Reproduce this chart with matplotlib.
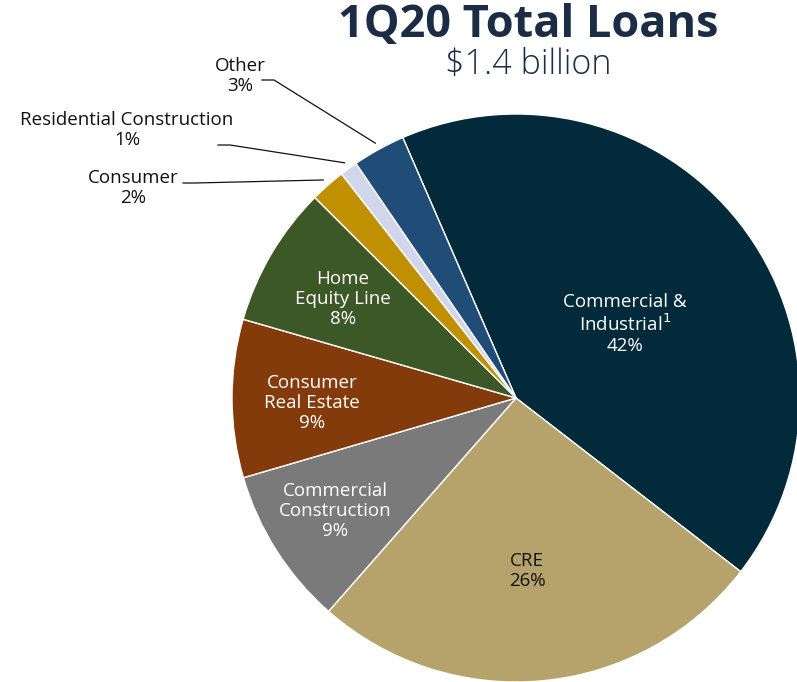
import numpy as np
import matplotlib
matplotlib.use("Agg")
import matplotlib.pyplot as plt

# Loan portfolio mix, 1Q20
categories = ["Commercial &\nIndustrial$^{1}$", "CRE", "Commercial\nConstruction",
              "Consumer\nReal Estate", "Home\nEquity Line", "Consumer",
              "Residential Construction", "Other"]
shares = [42, 26, 9, 9, 8, 2, 1, 3]
colors = ["#032a3b", "#b5a36b", "#7a7a7a", "#833b0c", "#3b5826",
          "#c09000", "#d2d6ea", "#1f4d78"]
text_colors = ["white", "#111111", "white", "white", "white", None, None, None]
title = "1Q20 Total Loans"
subtitle = "$1.4 billion"

W, H = 797, 682
plt.rcParams["font.family"] = ["Open Sans", "DejaVu Sans"]
fig = plt.figure(figsize=(W / 100, H / 100), dpi=100)
ax = fig.add_axes([0, 0, 1, 1])

cx, cy, r = 516, H - 398, 284
wedges, _ = ax.pie(shares, colors=colors, startangle=113.5, counterclock=False,
                   center=(cx, cy), radius=r,
                   wedgeprops=dict(edgecolor="white", linewidth=1.0))
ax.set_xlim(0, W)
ax.set_ylim(0, H)
ax.set_aspect("equal")
ax.axis("off")

def py(y):
    return H - y

FS = 13.5
LS = 1.12

# labels inside the larger wedges (offsets in pixels, top-down)
inside_pos = {0: (625, 324), 1: (527, 571), 2: (335, 511), 3: (312, 403), 4: (343, 299)}
for i, (x, y) in inside_pos.items():
    ax.text(x, py(y), f"{categories[i]}\n{shares[i]}%", ha="center", va="center",
            color=text_colors[i], fontsize=FS, linespacing=LS)

# labels outside the thin wedges, with leader lines
outside = {5: ((133, 188), (183, 183)),
           6: ((127, 130), (218, 145)),
           7: ((240, 76), (262, 80))}
for i, ((tx, ty), (lx, ly)) in outside.items():
    w = wedges[i]
    mid = np.deg2rad((w.theta1 + w.theta2) / 2)
    ex, ey = cx + 1.025 * r * np.cos(mid), cy + 1.025 * r * np.sin(mid)
    ax.text(tx, py(ty), f"{categories[i]}\n{shares[i]}%", ha="center", va="center",
            color="#111111", fontsize=FS, linespacing=LS)
    ax.plot([lx, lx + 12, ex], [py(ly), py(ly), ey], color="#111111", lw=0.9)

ax.text(528, py(26), title, ha="center", va="center", fontsize=32.5,
        fontweight="bold", color="#1b2d45")
ax.text(528, py(65), subtitle, ha="center", va="center", fontsize=24.5,
        fontweight="light", color="#1b2d45")

fig.savefig("out.png", dpi=100)
